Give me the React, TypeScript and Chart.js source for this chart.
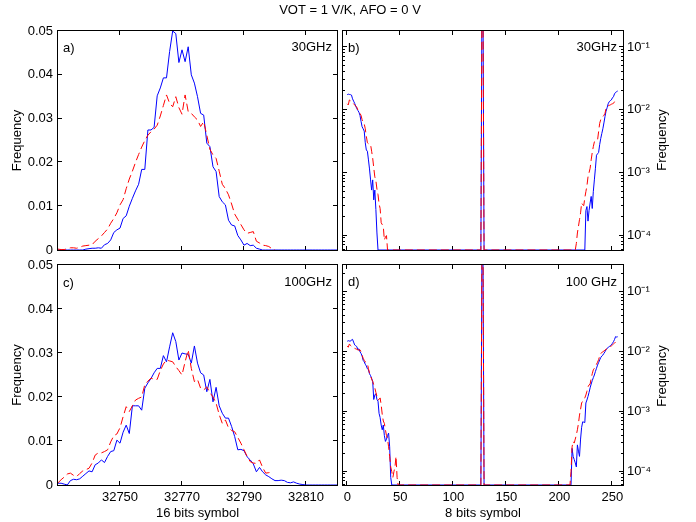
import React, { useEffect, useRef } from 'react';
import { Chart, registerables } from 'chart.js';

Chart.register(...registerables);

const PAGE_W = 696;
const PAGE_H = 522;
const FONT = "'Liberation Sans', Arial, Helvetica, sans-serif";
const BLUE = '#0000ff';
const RED = '#ff0000';

// ---------- 16 bits symbol panels (a, c) ----------
const sym16Start = 32730;
const x16Min = 32730;
const x16Max = 32820;
const x16Ticks = [
  32735, 32740, 32745, 32750, 32755, 32760, 32765, 32770, 32775, 32780,
  32785, 32790, 32795, 32800, 32805, 32810, 32815,
];
const x16Labels = [32750, 32770, 32790, 32810];
const y16Min = 0;
const y16Max = 0.05;
const y16Ticks = [0, 0.01, 0.02, 0.03, 0.04, 0.05];

const blue30G16 = [
  0, 0, 0, 0, 0, 0, 0, 0, 0,
  0.0002, 0.0003, 0.0004, 0.0004, 0.0005, 0.0004, 0.0012, 0.0015, 0.0023, 0.0040,
  0.0046, 0.0050, 0.0072, 0.0078, 0.0100, 0.0118, 0.0135, 0.0150, 0.0184, 0.0184,
  0.0274, 0.0274, 0.0280, 0.0352, 0.0370, 0.0393, 0.0393, 0.0453, 0.0500, 0.0494,
  0.0428, 0.0457, 0.0430, 0.0464, 0.0400, 0.0381, 0.0350, 0.0312, 0.0308, 0.0244,
  0.0236, 0.0190, 0.0179, 0.0122, 0.0110, 0.0103, 0.0068, 0.0057, 0.0055, 0.0033,
  0.0023, 0.0011, 0.0015, 0.0010, 0.0011, 0.0004, 0.0002,
  0, 0, 0, 0, 0, 0, 0, 0, 0, 0, 0, 0, 0, 0, 0, 0, 0, 0, 0, 0, 0, 0, 0, 0, 0,
];
const red30G16 = [
  0.0002, 0.0001, 0.0001, 0.0003, 0.0005, 0.0005, 0.0004, 0.0006, 0.0009, 0.0010,
  0.0011, 0.0012, 0.0020, 0.0026, 0.0032, 0.0040, 0.0048, 0.0061, 0.0072, 0.0085,
  0.0103, 0.0115, 0.0140, 0.0162, 0.0180, 0.0200, 0.0218, 0.0235, 0.0250, 0.0262,
  0.0270, 0.0276, 0.0285, 0.0306, 0.0330, 0.0354, 0.0335, 0.0327, 0.0350, 0.0325,
  0.0310, 0.0354, 0.0316, 0.0312, 0.0304, 0.0297, 0.0282, 0.0293, 0.0262, 0.0230,
  0.0217, 0.0209, 0.0180, 0.0150, 0.0140, 0.0126, 0.0105, 0.0082, 0.0070, 0.0058,
  0.0046, 0.0038, 0.0040, 0.0042, 0.0020, 0.0016, 0.0011, 0.0010, 0.0008, 0.0003,
  0,
];
const blue100G16 = [
  0.0004, 0.0004, 0.0002, 0.0000, 0.0010, 0.0013, 0.0012, 0.0014, 0.0020, 0.0026,
  0.0032, 0.0030, 0.0046, 0.0050, 0.0057, 0.0051, 0.0065, 0.0076, 0.0078, 0.0102,
  0.0095, 0.0120, 0.0136, 0.0117, 0.0180, 0.0180, 0.0180, 0.0170, 0.0220, 0.0232,
  0.0242, 0.0255, 0.0265, 0.0265, 0.0294, 0.0280, 0.0314, 0.0346, 0.0326, 0.0284,
  0.0300, 0.0298, 0.0297, 0.0277, 0.0316, 0.0277, 0.0255, 0.0250, 0.0212, 0.0240,
  0.0189, 0.0222, 0.0180, 0.0163, 0.0152, 0.0152, 0.0133, 0.0110, 0.0080, 0.0081,
  0.0078, 0.0064, 0.0057, 0.0048, 0.0030, 0.0040, 0.0030, 0.0023, 0.0019, 0.0014,
  0.0010, 0.0010, 0.0011, 0.0010, 0.0006, 0.0005, 0.0007, 0.0004, 0.0002, 0.0001,
  0, 0, 0, 0, 0, 0, 0, 0, 0, 0, 0,
];
const red100G16 = [
  0.0005, 0.0012, 0.0018, 0.0025, 0.0027, 0.0022, 0.0019, 0.0026, 0.0032, 0.0035,
  0.0038, 0.0050, 0.0068, 0.0073, 0.0073, 0.0076, 0.0080, 0.0098, 0.0112, 0.0116,
  0.0130, 0.0155, 0.0178, 0.0167, 0.0180, 0.0193, 0.0197, 0.0200, 0.0228, 0.0236,
  0.0243, 0.0240, 0.0240, 0.0260, 0.0275, 0.0284, 0.0282, 0.0280, 0.0269, 0.0260,
  0.0250, 0.0280, 0.0307, 0.0265, 0.0235, 0.0240, 0.0220, 0.0216, 0.0223, 0.0210,
  0.0200, 0.0186, 0.0160, 0.0140, 0.0148, 0.0130, 0.0124, 0.0121, 0.0108, 0.0095,
  0.0080, 0.0065, 0.0053, 0.0050, 0.0049, 0.0057, 0.0040, 0.0027, 0.0028, 0.0030,
];

// ---------- 8 bits symbol panels (b, d) ----------
const x8Min = -4;
const x8Max = 260;
const x8Ticks = [0, 25, 50, 75, 100, 125, 150, 175, 200, 225, 250];
const x8Labels = [0, 50, 100, 150, 200, 250];
const yLog30Min = 5.9e-5;
const yLog30Max = 0.18;
const yLog100Min = 6e-5;
const yLog100Max = 0.28;
const logLabels = [1e-4, 1e-3, 1e-2, 1e-1];
const logLabelText = ['10\u207B\u2074', '10\u207B\u00B3', '10\u207B\u00B2', '10\u207B\u00B9'];
const logMinorFactors = [2, 3, 4, 5, 6, 7, 8, 9];

const spikeStart = 126;
const spikeBlue = [0, 0.48, 0.48, 0];
const spikeRed = [0, 0.48, 0.48, 0];

const blue30LoStart = 0;
const blue30Lo = [
  0.0175, 0.0178, 0.0176, 0.0175, 0.0172, 0.0150, 0.0138, 0.0127, 0.0115, 0.0105,
  0.0098, 0.0092, 0.0082, 0.0066, 0.0054, 0.0050, 0.0046, 0.0030, 0.0023, 0.0022,
  0.0016, 0.00115, 0.00077, 0.00053, 0.00077, 0.00037, 0.00053, 0.00026, 0.00011, 0,
];
const red30LoStart = 0;
const red30Lo = [
  0.0125, 0.0120, 0.0144, 0.0140, 0.0135, 0.0130, 0.0125, 0.0120, 0.0115, 0.0110,
  0.0100, 0.0094, 0.0088, 0.0082, 0.0070, 0.0064, 0.0060, 0.0050, 0.0038, 0.0030,
  0.0029, 0.0028, 0.0028, 0.0022, 0.0017, 0.0012, 0.00086, 0.00075, 0.00055, 0.00045,
  0.00032, 0.00027, 0.00016, 0.00015, 0.00014, 0.000085, 0.000095, 0.0001, 0,
];
const blue30HiStart = 224;
const blue30Hi = [
  0,
  0.00025, 0.00029, 0.00017, 0.00025, 0.00033, 0.00042, 0.00027, 0.0005, 0.00077,
  0.00118, 0.0019, 0.0020, 0.0021, 0.0028, 0.0035, 0.0042, 0.0050, 0.0062, 0.0078,
  0.0095, 0.0108, 0.0125, 0.0135, 0.0140, 0.0144, 0.0155, 0.0162, 0.0180, 0.0190,
  0.0195, 0.0200,
];
const red30HiStart = 215;
const red30Hi = [
  0,
  0.000075, 0.00011, 0.00014, 0.00018, 0.00023, 0.00033, 0.00031, 0.0003, 0.0004, 0.0005,
  0.00062, 0.00086, 0.001, 0.00118, 0.0016, 0.0021, 0.0026, 0.0031, 0.0032, 0.0033,
  0.0033, 0.0045, 0.0061, 0.007, 0.0075, 0.0078, 0.0082, 0.0088, 0.0105, 0.0112,
  0.0116, 0.0118, 0.012, 0.0123, 0.0125, 0.0127, 0.0135, 0.014, 0.0144, 0.0146,
];

const blue100LoStart = 0;
const blue100Lo = [
  0.0150, 0.0153, 0.0151, 0.0150, 0.0158, 0.0161, 0.0145, 0.0130, 0.0126, 0.0122,
  0.0108, 0.0112, 0.0100, 0.0094, 0.0085, 0.0072, 0.0068, 0.0062, 0.0058, 0.0052,
  0.0050, 0.0043, 0.0040, 0.0036, 0.0032, 0.0016, 0.0019, 0.0020, 0.0016, 0.0015,
  0.00094, 0.0008, 0.0006, 0.0005, 0.0006, 0.0004, 0.00032, 0.00035, 0.0004, 0.00044,
  0.00026, 0.00008, 0,
];
const red100LoStart = 0;
const red100Lo = [
  0.0125, 0.0119, 0.0135, 0.0128, 0.0122, 0.0118, 0.0116, 0.0114, 0.0112, 0.0110,
  0.0108, 0.0106, 0.0108, 0.0100, 0.0088, 0.0078, 0.0072, 0.0068, 0.0066, 0.0064,
  0.0052, 0.0044, 0.0040, 0.0035, 0.0032, 0.0028, 0.0025, 0.0021, 0.0018, 0.00157,
  0.0016, 0.0017, 0.0013, 0.0009, 0.0007, 0.00064, 0.0005, 0.0004, 0.00035, 0.00026,
  0.00018, 0.00012, 0.0001, 0.00008, 0.0001, 0.00012, 0.00018, 0.00008, 0,
];
const blue100HiStart = 211;
const blue100Hi = [
  0,
  0.000245, 0.00018, 0.00016, 0.00014, 0.00012, 0.00028, 0.00022, 0.00018, 0.00035,
  0.00055, 0.00068, 0.00067, 0.00066, 0.0014, 0.00157, 0.0018, 0.0021, 0.0025, 0.0029,
  0.0033, 0.0037, 0.0041, 0.0047, 0.0053, 0.0060, 0.0066, 0.0073, 0.0080, 0.0085,
  0.0088, 0.0094, 0.0100, 0.0108, 0.0114, 0.0118, 0.0122, 0.0126, 0.0130, 0.0138,
  0.0147, 0.0160, 0.0179, 0.0176, 0.0178,
];
const red100HiStart = 210;
const red100Hi = [
  0,
  0.0001, 0.00026, 0.00032, 0.0003, 0.00035, 0.00041, 0.0005, 0.00064, 0.00088, 0.0011,
  0.0014, 0.0015, 0.00157, 0.0017, 0.0019, 0.0022, 0.0026, 0.0028, 0.0029, 0.0036,
  0.0043, 0.0050, 0.0053, 0.0056, 0.0062, 0.0067, 0.0074, 0.0085, 0.0094, 0.0097,
  0.0100, 0.0103, 0.0106, 0.0110, 0.0112, 0.0114, 0.0118, 0.0122, 0.0125, 0.0130,
  0.0135, 0.0140, 0.0143,
];

// ---------- helpers ----------
const seg = (start: number, vals: number[]) => vals.map((y, i) => ({ x: start + i, y }));

type TextItem = { t: string; x: number; y: number; align?: CanvasTextAlign; rot?: number };

const framePlugin = {
  id: 'frame',
  beforeDatasetsDraw(chart: any, _args: any, opts: any) {
    const { ctx, chartArea: ca } = chart;
    const xs = chart.scales.x;
    const ys = chart.scales.y;
    ctx.save();
    ctx.strokeStyle = '#000';
    ctx.lineWidth = 1;
    ctx.strokeRect(ca.left - 0.5, ca.top - 0.5, ca.right - ca.left + 1, ca.bottom - ca.top + 1);
    const L = 4;
    const line = (x1: number, y1: number, x2: number, y2: number) => {
      ctx.beginPath();
      ctx.moveTo(x1, y1);
      ctx.lineTo(x2, y2);
      ctx.stroke();
    };
    for (const tk of xs.ticks) {
      const v = tk.value;
      if (v <= xs.min || v >= xs.max) continue;
      const p = Math.round(xs.getPixelForValue(v)) - 0.5;
      line(p, ca.bottom, p, ca.bottom - L);
      line(p, ca.top, p, ca.top + L);
    }
    if (opts.log) {
      for (const major of logLabels) {
        const vals = [major, ...logMinorFactors.map((k) => k * major), major / 10 * 9, major / 10 * 8, major / 10 * 7, major / 10 * 6];
        vals.forEach((v, idx) => {
          if (v <= ys.min || v >= ys.max) return;
          const p = Math.round(ys.getPixelForValue(v)) - 0.5;
          const len = idx === 0 ? L : 2;
          line(ca.left, p, ca.left + len, p);
          line(ca.right, p, ca.right - len, p);
        });
      }
    } else {
      for (const tk of ys.ticks) {
        const v = tk.value;
        if (v <= ys.min || v >= ys.max) continue;
        const p = Math.round(ys.getPixelForValue(v)) - 0.5;
        line(ca.left, p, ca.left + L, p);
        line(ca.right, p, ca.right - L, p);
      }
    }
    ctx.restore();
  },
  afterDraw(chart: any, _args: any, opts: any) {
    const { ctx } = chart;
    ctx.save();
    ctx.fillStyle = '#000';
    ctx.font = `13px ${FONT}`;
    ctx.textBaseline = 'middle';
    for (const it of (opts.texts || []) as TextItem[]) {
      ctx.save();
      ctx.translate(it.x, it.y);
      if (it.rot) ctx.rotate(it.rot);
      ctx.textAlign = it.align || 'left';
      ctx.fillText(it.t, 0, 0);
      ctx.restore();
    }
    ctx.restore();
  },
};

type PanelSpec = {
  log: boolean;
  showX: boolean;
  yPos: 'left' | 'right';
  pad: { left: number; right: number; top: number; bottom: number };
  xH: number;
  yW: number;
  xMin: number;
  xMax: number;
  xTicks: number[];
  xLabels: number[];
  xTitle: string;
  yMin: number;
  yMax: number;
  blue: { x: number; y: number }[];
  red: { x: number; y: number }[];
  texts: TextItem[];
};

const fontSpec = { family: FONT, size: 13 };

function makeConfig(p: PanelSpec): any {
  return {
    type: 'line',
    data: {
      datasets: [
        {
          data: p.red,
          parsing: false,
          borderColor: RED,
          borderWidth: 1,
          borderDash: [8, 4],
          pointRadius: 0,
          tension: 0,
          fill: false,
          order: 0,
        },
        {
          data: p.blue,
          parsing: false,
          borderColor: BLUE,
          borderWidth: 1,
          pointRadius: 0,
          tension: 0,
          fill: false,
          order: 1,
        },
      ],
    },
    options: {
      animation: false,
      responsive: false,
      events: [],
      layout: { padding: p.pad },
      plugins: {
        legend: { display: false },
        tooltip: { enabled: false },
        frame: { log: p.log, texts: p.texts },
      },
      scales: {
        x: {
          type: 'linear',
          position: 'bottom',
          min: p.xMin,
          max: p.xMax,
          grid: { display: false, drawTicks: false },
          border: { display: false },
          afterBuildTicks: (s: any) => {
            s.ticks = p.xTicks.map((v) => ({ value: v }));
          },
          ticks: {
            display: p.showX,
            autoSkip: false,
            maxRotation: 0,
            padding: 5,
            font: fontSpec,
            color: '#000',
            callback: (v: number) => (p.xLabels.includes(v) ? String(v) : null),
          },
          title: {
            display: p.showX,
            text: p.xTitle,
            font: fontSpec,
            color: '#000',
            padding: { top: 0, bottom: 1 },
          },
          afterFit: (s: any) => {
            s.height = p.xH;
          },
        },
        y: {
          type: p.log ? 'logarithmic' : 'linear',
          position: p.yPos,
          min: p.yMin,
          max: p.yMax,
          grid: { display: false, drawTicks: false },
          border: { display: false },
          afterBuildTicks: (s: any) => {
            s.ticks = (p.log ? logLabels : y16Ticks).map((v) => ({ value: v }));
          },
          ticks: p.log
            ? {
                autoSkip: false,
                padding: 4,
                font: fontSpec,
                color: '#000',
                callback: (v: number) => {
                  const i = logLabels.findIndex((l) => Math.abs(l - v) / l < 1e-6);
                  return i >= 0 ? logLabelText[i] : null;
                },
              }
            : {
                autoSkip: false,
                padding: 5,
                font: fontSpec,
                color: '#000',
                callback: (v: number) => String(Number(v.toFixed(2))),
              },
          title: {
            display: !p.log,
            text: 'Frequency',
            font: fontSpec,
            color: '#000',
            padding: { top: 10, bottom: 0 },
          },
          afterFit: (s: any) => {
            s.width = p.yW;
          },
        },
      },
    },
    plugins: [framePlugin],
  };
}

const panels: PanelSpec[] = [
  {
    log: false,
    showX: false,
    yPos: 'left',
    pad: { left: 0, right: 359, top: 31, bottom: 272 },
    xH: 0,
    yW: 58,
    xMin: x16Min,
    xMax: x16Max,
    xTicks: x16Ticks,
    xLabels: x16Labels,
    xTitle: '16 bits symbol',
    yMin: y16Min,
    yMax: y16Max,
    blue: seg(sym16Start, blue30G16),
    red: seg(sym16Start, red30G16),
    texts: [
      { t: 'VOT = 1 V/K, AFO = 0 V', x: 350, y: 10, align: 'center' },
      { t: 'a)', x: 63, y: 48 },
      { t: '30GHz', x: 332, y: 47, align: 'right' },
    ],
  },
  {
    log: true,
    showX: false,
    yPos: 'right',
    pad: { left: 343, right: 33, top: 31, bottom: 272 },
    xH: 0,
    yW: 40,
    xMin: x8Min,
    xMax: x8Max,
    xTicks: x8Ticks,
    xLabels: x8Labels,
    xTitle: '8 bits symbol',
    yMin: yLog30Min,
    yMax: yLog30Max,
    blue: [...seg(blue30LoStart, blue30Lo), ...seg(spikeStart, spikeBlue), ...seg(blue30HiStart, blue30Hi)],
    red: [...seg(red30LoStart, red30Lo), ...seg(spikeStart, spikeRed), ...seg(red30HiStart, red30Hi)],
    texts: [
      { t: 'b)', x: 348, y: 48 },
      { t: '30GHz', x: 617, y: 47, align: 'right' },
      { t: 'Frequency', x: 662, y: 140, align: 'center', rot: -Math.PI / 2 },
    ],
  },
  {
    log: false,
    showX: true,
    yPos: 'left',
    pad: { left: 0, right: 359, top: 265, bottom: 0 },
    xH: 37,
    yW: 58,
    xMin: x16Min,
    xMax: x16Max,
    xTicks: x16Ticks,
    xLabels: x16Labels,
    xTitle: '16 bits symbol',
    yMin: y16Min,
    yMax: y16Max,
    blue: seg(sym16Start, blue100G16),
    red: seg(sym16Start, red100G16),
    texts: [
      { t: 'c)', x: 63, y: 283 },
      { t: '100GHz', x: 332, y: 282, align: 'right' },
    ],
  },
  {
    log: true,
    showX: true,
    yPos: 'right',
    pad: { left: 343, right: 33, top: 265, bottom: 0 },
    xH: 37,
    yW: 40,
    xMin: x8Min,
    xMax: x8Max,
    xTicks: x8Ticks,
    xLabels: x8Labels,
    xTitle: '8 bits symbol',
    yMin: yLog100Min,
    yMax: yLog100Max,
    blue: [...seg(blue100LoStart, blue100Lo), ...seg(spikeStart, spikeBlue), ...seg(blue100HiStart, blue100Hi)],
    red: [...seg(red100LoStart, red100Lo), ...seg(spikeStart, spikeRed), ...seg(red100HiStart, red100Hi)],
    texts: [
      { t: 'd)', x: 348, y: 282 },
      { t: '100 GHz', x: 617, y: 282, align: 'right' },
      { t: 'Frequency', x: 662, y: 376, align: 'center', rot: -Math.PI / 2 },
    ],
  },
];

function Panel({ spec }: { spec: PanelSpec }) {
  const ref = useRef<HTMLCanvasElement | null>(null);
  useEffect(() => {
    if (!ref.current) return;
    const chart = new Chart(ref.current, makeConfig(spec));
    return () => chart.destroy();
  }, [spec]);
  return (
    <canvas
      ref={ref}
      width={PAGE_W}
      height={PAGE_H}
      style={{ position: 'absolute', left: 0, top: 0, width: PAGE_W, height: PAGE_H }}
    />
  );
}

export default function App() {
  return (
    <div
      style={{
        position: 'absolute',
        left: 0,
        top: 0,
        width: PAGE_W,
        height: PAGE_H,
        background: '#fff',
      }}
    >
      {panels.map((p, i) => (
        <Panel key={i} spec={p} />
      ))}
    </div>
  );
}
